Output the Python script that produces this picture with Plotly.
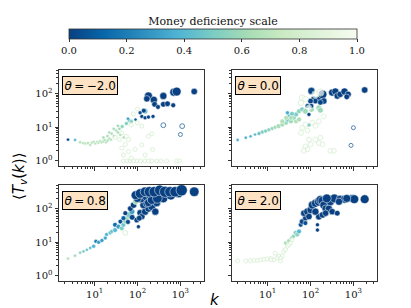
import plotly.graph_objects as go

# ---------------- data ----------------
THETAS = ["\u22122.0", "0.0", "0.8", "2.0"]
CB_TICKS = [0.0, 0.2, 0.4, 0.6, 0.8, 1.0]
CB_LABELS = ["0.0", "0.2", "0.4", "0.6", "0.8", "1.0"]

# theta = -2.0 : filled markers
A_k = [2.4, 3.5, 4.6, 5.4, 6.1, 7.0, 7.9, 8.6, 9.5, 10.5, 11.5, 12.4, 13.5, 14.5, 16, 17, 18.5, 20, 22, 24,
       16, 20, 22, 25, 28, 28, 32, 35, 38, 40, 44, 48, 35, 55, 65, 72, 60, 90, 150, 115, 140, 126, 150, 180, 230,
       180, 165, 240, 250, 400, 400, 500, 700, 820, 680, 2100, 300]
A_T = [4.3, 4.2, 3.6, 3.4, 3.3, 3.4, 3.0, 3.5, 3.7, 3.3, 3.7, 3.5, 3.9, 3.6, 3.8, 4.2, 3.6, 4.0, 4.6, 4.3,
       5.0, 5.5, 7.0, 6.5, 5.5, 9.0, 8.0, 7.0, 9.0, 6.0, 10.5, 5.0, 11, 13, 16, 15, 18, 17, 30, 27, 31, 21, 19, 20, 21,
       85, 70, 65, 48, 85, 48, 50, 110, 115, 45, 115, 40]
A_c = [0.02, 0.42, 0.66, 0.67, 0.68, 0.67, 0.69, 0.67, 0.66, 0.68, 0.66, 0.67, 0.65, 0.67, 0.66, 0.65, 0.67, 0.66, 0.65, 0.66,
       0.63, 0.63, 0.62, 0.63, 0.65, 0.6, 0.61, 0.62, 0.6, 0.64, 0.57, 0.64, 0.58, 0.52, 0.42, 0.55, 0.3, 0.1, 0.45, 0.05, 0.02, 0.02, 0.02, 0.02, 0.02,
       0.0, 0.0, 0.0, 0.0, 0.0, 0.0, 0.0, 0.0, 0.0, 0.0, 0.0, 0.0]
A_w = [4, 4, 4, 4, 4, 4, 4, 4, 4, 4, 4, 4, 4, 4, 4, 4, 4, 4, 4, 4,
       4, 4, 4, 4, 4, 4, 4, 4, 4, 4, 5, 4, 4, 5, 5, 5, 4, 4, 7, 5, 6, 5, 5, 5, 5,
       10, 8, 9, 7, 9, 7, 7, 10, 11, 6, 8, 6]
# theta = -2.0 : open markers
A_hk = [400, 1100, 1000, 47, 56, 67, 81, 97, 117, 150, 180, 215, 280, 350, 480, 820, 950,
        43, 52, 62, 47, 71, 88, 126, 225, 150, 71, 99, 126, 180, 215, 55, 43, 62, 30, 38, 100, 80]
A_hT = [11.5, 10.8, 6.1, 1.0, 1.0, 1.0, 1.0, 1.0, 1.0, 1.0, 1.0, 1.0, 1.0, 1.0, 1.0, 1.0, 1.0,
        2.4, 3.1, 1.9, 1.5, 1.2, 2.2, 3.0, 2.2, 1.5, 11.6, 13.6, 10.8, 5.4, 6.4, 5.4, 6.8, 4.3, 5.0, 4.3, 35, 25]
A_hc = [0.05, 0.05, 0.05] + [0.8] * 14 + [0.78] * 21
A_hw = [6, 6, 5] + [5] * 14 + [5] * 21

# theta = 0.0
B_k = [2.0, 3.1, 4.0, 5.1, 6.3, 7.5, 9.0, 10.7, 12.8, 15, 18, 22, 27, 29, 32, 35, 41, 46, 54, 64,
       29, 37, 22, 27, 35, 46, 54, 76, 105, 156, 170, 92,
       105, 120, 156, 190, 204, 130, 100, 85, 320, 380, 420, 490, 620, 750, 700, 1830, 92, 105, 170]
B_T = [4.2, 4.9, 5.4, 6.1, 6.5, 7.2, 7.7, 8.4, 9.2, 10, 10.8, 12, 13.6, 17, 21, 15, 19, 24, 30, 34,
       27, 25, 15, 19, 19, 15, 17, 30, 34, 38, 32, 11.6,
       120, 68, 68, 95, 60, 60, 60, 43, 107, 115, 85, 95, 115, 95, 80, 128, 24, 43, 55]
B_c = [0.35, 0.36, 0.38, 0.4, 0.45, 0.5, 0.52, 0.55, 0.58, 0.6, 0.62, 0.62, 0.6, 0.45, 0.4, 0.6, 0.55, 0.5, 0.55, 0.5,
       0.35, 0.5, 0.66, 0.66, 0.64, 0.66, 0.64, 0.6, 0.58, 0.6, 0.58, 0.5,
       0.02, 0.02, 0.02, 0.0, 0.02, 0.02, 0.02, 0.05, 0.0, 0.0, 0.0, 0.0, 0.0, 0.0, 0.0, 0.0, 0.02, 0.02, 0.02]
B_w = [4, 4, 4, 4, 5, 5, 5, 5, 5, 5, 6, 6, 6, 6, 6, 6, 6, 6, 6, 6,
       5, 6, 6, 6, 6, 6, 6, 7, 7, 7, 7, 5,
       9, 8, 8, 11, 8, 7, 7, 6, 9, 9, 8, 8, 9, 8, 7, 8, 5, 6, 7]
B_hk = [1000, 880, 64, 76, 60, 130, 170, 92, 64, 76, 85, 60, 92, 76, 100, 130, 170, 190, 156, 204, 156, 130, 110, 85, 290, 350, 70]
B_hT = [9.7, 2.9, 75, 68, 53, 95, 107, 38, 9.7, 12, 8, 6.8, 4.3, 2.7, 3.1, 4.3, 4.9, 3.1, 3.4, 21, 15, 11, 13.6, 2.2, 2.0, 2.0, 2.0]
B_hc = [0.05, 0.05] + [0.8] * 25
B_hw = [5, 5, 7, 7, 7, 9, 9, 7] + [6] * 19

# theta = 0.8
C_k = [2.4, 3.5, 4.6, 5.5, 6.6, 7.9, 9.5, 10.7, 12.4, 14.8, 17.7, 19, 23, 25, 30, 30, 36, 40, 43, 47, 52, 56, 62, 74,
       68, 81, 90, 105, 115, 126, 150, 180, 215, 260, 137, 165, 52, 47, 96, 110, 60, 75,
       120, 160, 200, 250, 350, 500, 900, 180, 280, 400, 600, 100, 215, 290,
       90, 115, 150, 190, 245, 330, 440, 570, 750, 1070, 2100]
C_T = [3.3, 4.0, 4.9, 5.4, 6.0, 6.8, 7.6, 10.7, 10.0, 11.3, 13.4, 17, 19, 21, 23, 33, 29, 41, 26, 33, 41, 52, 65, 81,
       100, 127, 160, 29, 75, 58, 81, 100, 115, 81, 127, 145, 73, 52, 46, 52, 40, 55,
       200, 230, 250, 250, 280, 300, 300, 150, 150, 200, 250, 200, 180, 200,
       250, 280, 316, 316, 316, 350, 316, 316, 316, 350, 316]
C_c = [0.66, 0.6, 0.55, 0.5, 0.45, 0.42, 0.38, 0.2, 0.3, 0.3, 0.35, 0.4, 0.4, 0.45, 0.4, 0.15, 0.3, 0.05, 0.5, 0.45, 0.55, 0.6, 0.5, 0.3,
       0.0, 0.0, 0.6, 0.0, 0.0, 0.0, 0.0, 0.0, 0.0, 0.0, 0.0, 0.0, 0.0, 0.1, 0.0, 0.0, 0.02, 0.02,
       0.0, 0.0, 0.0, 0.0, 0.0, 0.0, 0.0, 0.0, 0.0, 0.0, 0.0, 0.0, 0.0, 0.0,
       0.0, 0.0, 0.0, 0.0, 0.0, 0.0, 0.0, 0.0, 0.0, 0.0, 0.0]
C_w = [4, 4, 4, 4, 4, 4, 5, 5, 5, 5, 5, 5, 5, 5, 6, 6, 6, 6, 6, 6, 6, 6, 7, 7,
       7, 8, 7, 5, 8, 8, 9, 9, 10, 9, 9, 10, 6, 6, 7, 7, 6, 7,
       11, 11, 12, 12, 12, 13, 13, 10, 10, 11, 12, 10, 11, 12,
       11, 12, 12, 13, 13, 13, 14, 13, 13, 14, 12]
C_hk = [52]
C_hT = [19]
C_hc = [0.75]
C_hw = [6]

# theta = 2.0
D_k = [26, 31, 36, 40, 45, 49, 54, 59, 64, 76, 70, 84, 100, 110, 130, 156, 170, 190, 204, 225, 267, 320, 420,
       145, 145, 156, 130, 92, 190, 225, 290, 360, 490, 620, 930, 1050, 1830, 460, 76, 240, 700]
D_T = [9.5, 11, 13.4, 15, 19, 17, 21, 33, 41, 52, 73, 81, 91, 127, 143, 160, 180, 170, 127, 100, 100, 81, 73,
       33, 23, 57, 81, 58, 65, 73, 160, 200, 190, 190, 200, 190, 190, 160, 37, 200, 200]
D_c = [0.65, 0.62, 0.6, 0.55, 0.5, 0.55, 0.4, 0.05, 0.02, 0.0, 0.0, 0.0, 0.0, 0.0, 0.0, 0.0, 0.0, 0.0, 0.0, 0.0, 0.0, 0.0, 0.0,
       0.0, 0.0, 0.0, 0.0, 0.0, 0.0, 0.0, 0.0, 0.0, 0.0, 0.0, 0.1, 0.0, 0.0, 0.0, 0.05, 0.0, 0.0]
D_w = [5, 5, 5, 5, 6, 6, 6, 6, 7, 7, 8, 9, 9, 10, 10, 11, 11, 11, 10, 9, 9, 8, 7,
       5, 5, 8, 9, 8, 8, 8, 10, 11, 10, 10, 10, 11, 11, 9, 6, 11, 10]
D_hk = [2.0, 3.1, 4.0, 4.8, 5.8, 6.9, 8.2, 9.8, 11.8, 14, 15, 17, 18.4, 20, 22, 24, 26, 29, 31, 34, 37, 20, 12]
D_hT = [2.8, 2.8, 2.8, 2.9, 2.9, 3.0, 3.1, 3.2, 3.3, 3.0, 4.8, 3.5, 3.9, 2.8, 3.9, 5.4, 6.1, 7.6, 8.5, 9.5, 12, 3.4, 3.0]
D_hc = [0.8] * 23
D_hw = [5] * 23

PANELS = [
    (A_k, A_T, A_c, A_w, A_hk, A_hT, A_hc, A_hw),
    (B_k, B_T, B_c, B_w, B_hk, B_hT, B_hc, B_hw),
    (C_k, C_T, C_c, C_w, C_hk, C_hT, C_hc, C_hw),
    (D_k, D_T, D_c, D_w, D_hk, D_hT, D_hc, D_hw),
]

# ---------------- figure ----------------
W, H = 411, 308
CSCALE = "GnBu_r"
SERIF = "DejaVu Serif"
SANS = "DejaVu Sans"
SZ = 0.8

fig = go.Figure()
for i, (k, T, c, w, hk, hT, hc, hw) in enumerate(PANELS):
    sfx = "" if i == 0 else str(i + 1)
    marker = dict(color=c, colorscale=CSCALE, cmin=0, cmax=1, size=[v * SZ for v in w],
                  line=dict(color="white", width=0.5), opacity=1)
    if i == 0:
        marker["showscale"] = True
        marker["colorbar"] = dict(
            orientation="h", xref="container", yref="container",
            x=205 / W, xanchor="center", y=1 - 8 / H, yanchor="top",
            len=288, lenmode="pixels", thickness=10, thicknessmode="pixels",
            xpad=0, ypad=0,
            title=dict(text="Money deficiency scale", side="top", font=dict(family=SERIF, size=11, color="#111")),
            tickmode="array", tickvals=CB_TICKS, ticktext=CB_LABELS,
            tickfont=dict(family=SERIF, size=10, color="#111"),
            ticks="outside", ticklen=3, tickwidth=0.8, tickcolor="#333",
            outlinewidth=0.8, outlinecolor="#333")
    fig.add_trace(go.Scatter(x=k, y=T, mode="markers", marker=marker, showlegend=False,
                             xaxis="x" + sfx, yaxis="y" + sfx))
    fig.add_trace(go.Scatter(x=hk, y=hT, mode="markers", showlegend=False,
                             marker=dict(color="white", size=[v * SZ for v in hw],
                                         line=dict(color=hc, colorscale=CSCALE, cmin=0, cmax=1, width=1)),
                             xaxis="x" + sfx, yaxis="y" + sfx))

majors = [1, 10, 100, 1000]
minors = [m * 10 ** e for e in range(0, 4) for m in range(2, 10)]
ylab = ["10<sup>0</sup>", "10<sup>1</sup>", "10<sup>2</sup>"]
xlab = ["10<sup>0</sup>", "10<sup>1</sup>", "10<sup>2</sup>", "10<sup>3</sup>"]

xdom = [[51 / W, 196 / W], [224 / W, 369 / W]]
ydom = [[1 - 158 / H, 1 - 62 / H], [1 - 273 / H, 1 - 177 / H]]

def ax_common():
    return dict(type="log", showline=True, mirror=True, linecolor="#333", linewidth=1,
                showgrid=False, zeroline=False, ticks="outside", ticklen=3.5, tickwidth=0.8,
                tickcolor="#333", tickfont=dict(family=SERIF, size=10, color="#111"),
                minor=dict(tickmode="array", tickvals=minors, ticks="outside", ticklen=2,
                           tickwidth=0.6, tickcolor="#333", showgrid=False))

layout = dict(width=W, height=H, margin=dict(l=0, r=0, t=0, b=0, autoexpand=False),
              plot_bgcolor="white", paper_bgcolor="white", showlegend=False)
for i in range(4):
    sfx = "" if i == 0 else str(i + 1)
    col, row = i % 2, i // 2
    xa = ax_common()
    xa.update(domain=xdom[col], range=[0.17, 3.55], anchor="y" + sfx,
              tickmode="array", tickvals=majors, ticktext=xlab, showticklabels=(row == 1))
    ya = ax_common()
    ya.update(domain=ydom[row], range=[-0.15, 2.7], anchor="x" + sfx,
              tickmode="array", tickvals=majors[:3], ticktext=ylab, showticklabels=(col == 0))
    layout["xaxis" + sfx] = xa
    layout["yaxis" + sfx] = ya

annotations = []
for i, th in enumerate(THETAS):
    sfx = "" if i == 0 else str(i + 1)
    annotations.append(dict(
        text="<i>\u03b8</i>\u2009=\u2009" + th, xref="x" + sfx + " domain", yref="y" + sfx + " domain",
        x=0.02, y=0.935, xanchor="left", yanchor="top", showarrow=False,
        font=dict(family=SANS, size=12, color="black"),
        bgcolor="#fde3c4", bordercolor="black", borderwidth=1, borderpad=1.5))
annotations.append(dict(text="\u27e8<i>T<sub>v</sub></i>(<i>k</i>)\u27e9", xref="paper", yref="paper",
                        x=11 / W, y=1 - 168 / H, xanchor="center", yanchor="middle",
                        textangle=-90, showarrow=False,
                        font=dict(family=SANS, size=15, color="black")))
annotations.append(dict(text="<i>k</i>", xref="paper", yref="paper",
                        x=207 / W, y=1 - 292 / H, xanchor="center", yanchor="middle",
                        borderpad=0, showarrow=False,
                        font=dict(family=SANS, size=15, color="black")))
layout["annotations"] = annotations

fig.update_layout(**layout)
fig.write_html("out.html")
